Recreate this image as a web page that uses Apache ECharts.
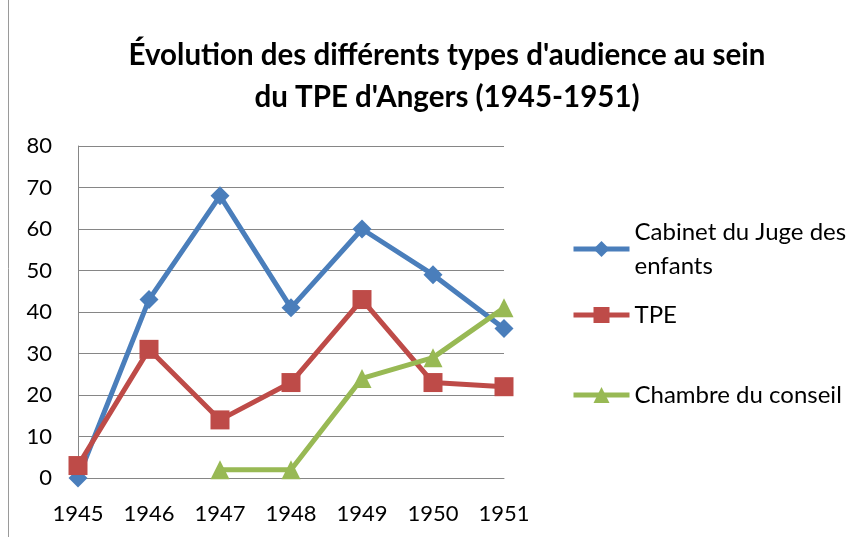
<!DOCTYPE html>
<html><head><meta charset="utf-8">
<script src="https://cdn.jsdelivr.net/npm/echarts@6/dist/echarts.min.js"></script>
<style>html,body{margin:0;padding:0;background:#fff}#c{width:859px;height:537px}</style>
</head><body><div id="c"></div>
<script>
const categories = ['1945','1946','1947','1948','1949','1950','1951'];
const cabinet = [0, 43, 68, 41, 60, 49, 36];
const tpe = [3, 31, 14, 23, 43, 23, 22];
const chambre = [null, null, 2, 2, 24, 29, 41];
const yTicks = [0, 10, 20, 30, 40, 50, 60, 70, 80];
const names = ['Cabinet du Juge des enfants', 'TPE', 'Chambre du conseil'];
const colors = ['#4A7EBB', '#BE4B48', '#98B954'];
const FONT = 'Lato, "Open Sans", sans-serif';

const chart = echarts.init(document.getElementById('c'));
function leg(name, top, fmt, pad) {
  return {
    data: [name], orient: 'vertical', left: 571, top: top,
    itemWidth: 56, itemHeight: 20, itemGap: 0, padding: 0,
    formatter: fmt || '{name}',
    lineStyle: { width: 5 },
    textStyle: { fontFamily: FONT, fontSize: 24, color: '#000', lineHeight: 34, padding: pad || 0 },
    selectedMode: false
  };
}
chart.setOption({
  animation: false,
  textStyle: { fontFamily: FONT },
  title: {
    text: "Évolution des différents types d'audience au sein\ndu TPE d'Angers (1945-1951)",
    left: 442, textAlign: 'center', top: 29,
    textStyle: { fontFamily: FONT, fontSize: 29.5, fontWeight: 'bold', color: '#000', lineHeight: 42 }
  },
  graphic: [{ type: 'line', shape: { x1: 8.5, y1: 0, x2: 8.5, y2: 537 }, style: { stroke: '#9a9a9a', lineWidth: 1 } }],
  legend: [
    leg(names[0], 198, 'Cabinet du Juge des\nenfants', [34, 0, 0, 0]),
    leg(names[1], 298),
    leg(names[2], 378)
  ],
  grid: { left: 78, right: 355, top: 146, bottom: 59 },
  xAxis: {
    type: 'category', data: categories, boundaryGap: false,
    axisLine: { lineStyle: { color: '#868686', width: 1 } },
    axisTick: { show: false },
    axisLabel: { fontFamily: FONT, fontSize: 22, color: '#000', margin: 25 }
  },
  yAxis: {
    type: 'value', min: yTicks[0], max: yTicks[yTicks.length - 1], interval: 10,
    axisLine: { show: true, lineStyle: { color: '#868686', width: 1 } },
    axisTick: { show: false },
    splitLine: { lineStyle: { color: '#868686', width: 1 } },
    axisLabel: { fontFamily: FONT, fontSize: 22, color: '#000', margin: 26 }
  },
  series: [
    { name: names[0], type: 'line', data: cabinet, symbol: 'diamond', symbolSize: 19,
      lineStyle: { width: 5, color: colors[0] }, itemStyle: { color: colors[0] }, z: 3 },
    { name: names[1], type: 'line', data: tpe, symbol: 'rect', symbolSize: 19,
      lineStyle: { width: 5, color: colors[1] }, itemStyle: { color: colors[1] }, z: 4 },
    { name: names[2], type: 'line', data: chambre, symbol: 'triangle', symbolSize: 19,
      lineStyle: { width: 5, color: colors[2] }, itemStyle: { color: colors[2] }, z: 5 }
  ]
});
</script></body></html>
